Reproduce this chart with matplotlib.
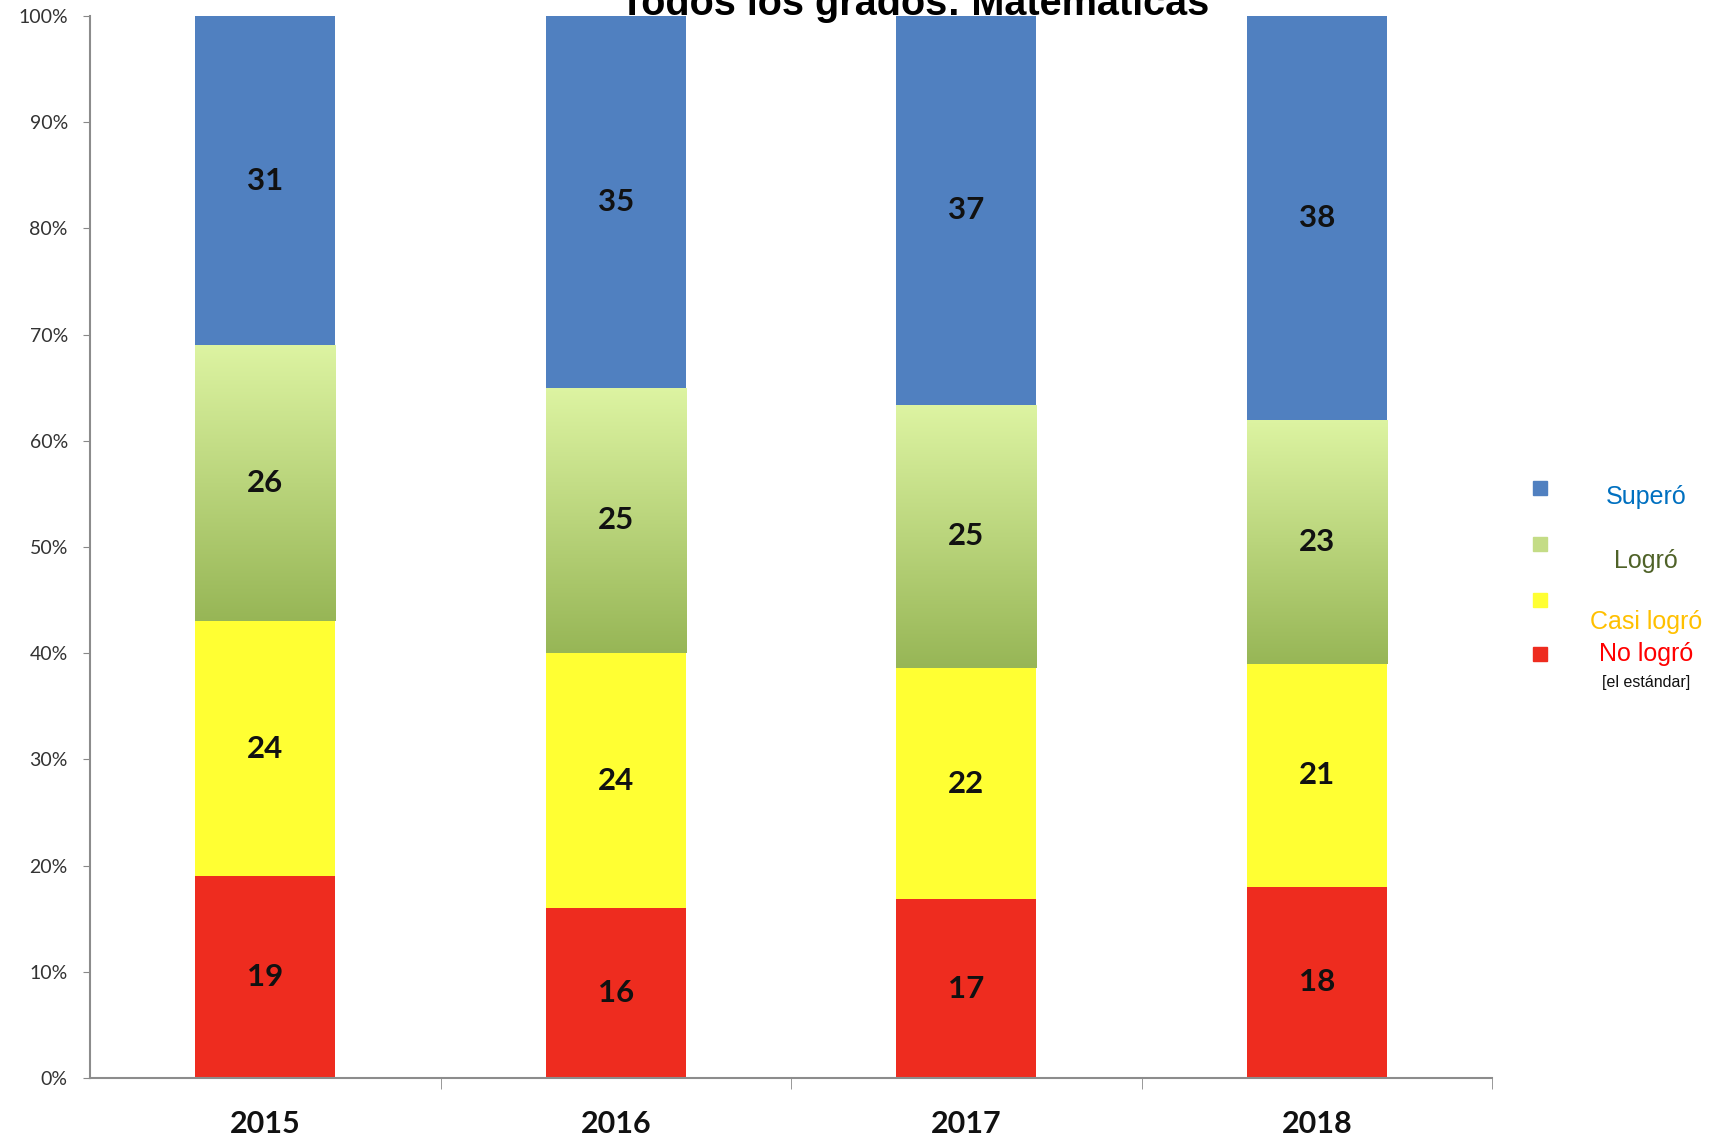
import numpy as np
import matplotlib.pyplot as plt
from matplotlib.patches import Rectangle
from matplotlib.colors import LinearSegmentedColormap

years = ['2015', '2016', '2017', '2018']
no_logro = [19, 16, 17, 18]
casi_logro = [24, 24, 22, 21]
logro = [26, 25, 25, 23]
supero = [31, 35, 37, 38]

c_red = '#EE2C1F'
c_yellow = '#FFFF33'
c_blue = '#5080C0'
green_top = '#DDF4A2'
green_bot = '#97B656'


def main():
    fig = plt.figure(figsize=(17.18, 11.4), dpi=100)
    ax = fig.add_axes([0.0524, 0.0544, 0.8161, 0.9316])

    data = np.array([no_logro, casi_logro, logro, supero], dtype=float)
    # values don't always add to 100, so stack them as shares
    shares = data / data.sum(axis=0) * 100
    x = np.arange(len(years))
    w = 0.4
    bottom = np.zeros(len(years))
    colors = [c_red, c_yellow, None, c_blue]
    green_cmap = LinearSegmentedColormap.from_list('g', [green_bot, green_top])
    grad = np.linspace(0, 1, 256).reshape(-1, 1)

    for k in range(4):
        if colors[k] is None:
            bars = ax.bar(x, shares[k], w, bottom=bottom, color='none', linewidth=0)
            for b in bars:
                im = ax.imshow(grad, cmap=green_cmap, origin='lower', aspect='auto',
                               extent=[b.get_x(), b.get_x() + b.get_width(),
                                       b.get_y(), b.get_y() + b.get_height()], zorder=1)
                im.set_clip_path(b)
        else:
            ax.bar(x, shares[k], w, bottom=bottom, color=colors[k], linewidth=0, zorder=1)
        for i in range(len(years)):
            ax.text(x[i], bottom[i] + shares[k][i] / 2, '%d' % data[k][i], ha='center', va='center',
                    fontsize=22.5, fontweight='bold', family='Lato', color='#111111', zorder=3)
        bottom += shares[k]

    ax.set_xlim(-0.5, 3.5)
    ax.set_ylim(0, 100)
    ax.set_yticks(np.arange(0, 101, 10))
    ax.set_yticklabels(['%d%%' % v for v in range(0, 101, 10)], family='Lato', fontsize=14,
                       color='#333333')
    ax.tick_params(axis='y', length=5, color='#888888', pad=11)
    ax.set_xticks(x)
    ax.set_xticklabels(years, family='Lato', fontsize=22, fontweight='bold', color='#111111')
    ax.set_xticks([0.5, 1.5, 2.5, 3.5], minor=True)
    ax.tick_params(axis='x', which='major', length=0, pad=23)
    ax.tick_params(axis='x', which='minor', length=8, color='#888888')
    for s in ['top', 'right']:
        ax.spines[s].set_visible(False)
    for s in ['left', 'bottom']:
        ax.spines[s].set_color('#8c8c8c')
        ax.spines[s].set_linewidth(1.5)

    fig.text(0.5326, 0.9868, 'Todos los grados: Matemáticas', ha='center', va='baseline',
             fontsize=28.5, fontweight='bold', family='Liberation Sans')

    # legend, drawn by hand
    sq = 14
    for yy, col in [(488, c_blue), (544, '#C4DC86'), (600, c_yellow), (654, c_red)]:
        fig.patches.append(Rectangle(((1540 - sq / 2) / 1718, 1 - (yy + sq / 2) / 1140),
                                     sq / 1718, sq / 1140, color=col,
                                     transform=fig.transFigure, figure=fig))
    lx = 1646 / 1718
    for yy, txt, col, fs in [(497, 'Superó', '#0070C0', 18), (561, 'Logró', '#4F6228', 18),
                             (622, 'Casi logró', '#FFC000', 18), (654, 'No logró', '#FF0000', 18),
                             (682, '[el estándar]', '#111111', 11.5)]:
        fig.text(lx, 1 - yy / 1140, txt, ha='center', va='center', fontsize=fs, color=col,
                 family='Liberation Sans')

    fig.savefig('out.png', dpi=100)


if __name__ == '__main__':
    main()
